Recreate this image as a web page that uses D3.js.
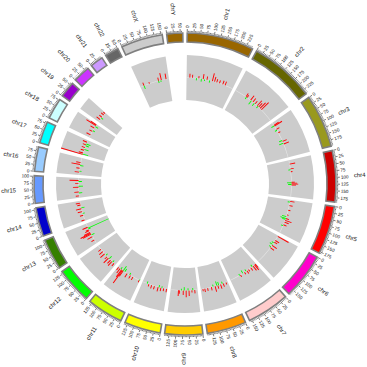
<!DOCTYPE html>
<html>
<head>
<meta charset="utf-8">
<script src="https://cdn.jsdelivr.net/npm/d3@7"></script>
<style>
  body { margin: 0; background: #fff; }
  svg { display: block; font-family: "Liberation Sans", Arial, sans-serif; }
</style>
</head>
<body>
<div id="chart"></div>
<script>
// genome layout (hg19, Mb)
const chromosomes = ["chr1", "chr2", "chr3", "chr4", "chr5", "chr6", "chr7", "chr8", "chr9", "chr10", "chr11", "chr12",
    "chr13", "chr14", "chr15", "chr16", "chr17", "chr18", "chr19", "chr20", "chr21", "chr22", "chrX", "chrY"];
const chromLengths = [249.3, 243.2, 198.0, 191.2, 180.9, 171.1, 159.1, 146.4, 141.2, 135.5, 135.0, 133.9,
    115.2, 107.3, 102.5, 90.4, 81.2, 78.1, 59.1, 63.0, 48.1, 51.3, 155.3, 59.4];
const chromColors = ["#996600", "#666600", "#99991e", "#cc0000", "#ff0000", "#ff00cc", "#ffcccc", "#ff9900",
    "#ffcc00", "#ffff00", "#ccff00", "#00ff00", "#358000", "#0000cc", "#6699ff", "#99ccff", "#00ffff",
    "#ccffff", "#9900cc", "#cc33ff", "#cc99ff", "#666666", "#cccccc", "#996600"];
const tickStep = 25;

// chromosomes that carry a data track
const trackChroms = ["chr1", "chr2", "chr3", "chr4", "chr5", "chr6", "chr7", "chr8", "chr9", "chr10", "chr11", "chr12",
    "chr13", "chr14", "chr15", "chr16", "chr17", "chr18", "chr19", "chrX"];

// [chromosome, position (Mb), value]
const redBars = [
    ["chr1", 17, .35], ["chr1", 31, .27], ["chr1", 64, .2], ["chr1", 87, .45], ["chr1", 107, .3], ["chr1", 136, .7],
    ["chr1", 148, .45], ["chr1", 160, .3], ["chr1", 175, .27], ["chr1", 193, .35], ["chr1", 206, .35],
    ["chr2", 65, .35], ["chr2", 72, .25], ["chr2", 95, .5], ["chr2", 110, .4], ["chr2", 125, .3], ["chr2", 140, .6],
    ["chr2", 150, .45], ["chr2", 160, .7], ["chr2", 170, .9],
    ["chr3", 15, .5], ["chr3", 20, .8], ["chr3", 40, .3], ["chr3", 60, .2], ["chr3", 110, .4], ["chr3", 125, .5],
    ["chr4", 20, .5], ["chr4", 45, .3], ["chr4", 60, .15], ["chr4", 115, .3], ["chr4", 120, .5], ["chr4", 125, .6], ["chr4", 130, .4],
    ["chr5", 8, .4], ["chr5", 30, .3], ["chr5", 55, .2], ["chr5", 80, .15], ["chr5", 100, .3], ["chr5", 110, .6],
    ["chr5", 120, .4], ["chr5", 135, .3],
    ["chr6", 5, 1.1], ["chr6", 30, .4], ["chr6", 40, .3], ["chr6", 60, .5], ["chr6", 75, .4],
    ["chr7", 5, .4], ["chr7", 10, .6], ["chr7", 20, .5], ["chr7", 35, .3], ["chr7", 50, .2], ["chr7", 60, .3],
    ["chr7", 75, .2], ["chr7", 100, .2],
    ["chr8", 10, .2], ["chr8", 25, .3], ["chr8", 40, .4], ["chr8", 55, .3], ["chr8", 70, .5], ["chr8", 90, .3],
    ["chr8", 110, .25], ["chr8", 125, .3], ["chr8", 135, .2],
    ["chr9", 15, .3], ["chr9", 30, .2], ["chr9", 45, .5], ["chr9", 60, .6], ["chr9", 75, .4], ["chr9", 95, .3], ["chr9", 100, .5],
    ["chr10", 5, .3], ["chr10", 20, .25], ["chr10", 35, .3], ["chr10", 50, .4], ["chr10", 70, .3], ["chr10", 85, .3], ["chr10", 100, .2],
    ["chr11", 3, .2], ["chr11", 40, .3], ["chr11", 55, .3], ["chr11", 75, .4], ["chr11", 100, .6], ["chr11", 105, 1.4],
    ["chr11", 110, .8], ["chr11", 120, .5], ["chr11", 130, .3],
    ["chr12", 10, .3], ["chr12", 25, .5], ["chr12", 35, .4], ["chr12", 50, .6], ["chr12", 60, .3], ["chr12", 80, .5],
    ["chr12", 95, .4], ["chr12", 110, .3],
    ["chr13", 20, .3], ["chr13", 40, .5], ["chr13", 55, .8], ["chr13", 60, 1.0], ["chr13", 65, .6], ["chr13", 75, .4],
    ["chr13", 80, .3], ["chr13", 95, .5],
    ["chr14", 5, .3], ["chr14", 30, .3], ["chr14", 50, .4], ["chr14", 65, .5], ["chr14", 85, .3], ["chr14", 95, .4],
    ["chr15", 10, .3], ["chr15", 30, .4], ["chr15", 55, .5], ["chr15", 75, .3], ["chr15", 90, .8],
    ["chr16", 15, .4], ["chr16", 35, .3], ["chr16", 55, .8], ["chr16", 65, .4],
    ["chr17", 3, 2.0], ["chr17", 10, .4], ["chr17", 25, .3], ["chr17", 40, .3], ["chr17", 55, .3], ["chr17", 70, .4],
    ["chr18", 15, .4], ["chr18", 35, .3], ["chr18", 55, .4], ["chr18", 70, 1.0], ["chr18", 75, .6],
    ["chr19", 15, .4], ["chr19", 30, .3], ["chr19", 45, .3], ["chr19", 55, .2],
    ["chrX", 20, .3], ["chrX", 50, .15], ["chrX", 100, .3], ["chrX", 115, .65], ["chrX", 140, .5]
];
const greenBars = [
    ["chr1", 52, -.2], ["chr1", 78, -.25], ["chr1", 95, -.15], ["chr1", 122, -.2],
    ["chr2", 68, -.2], ["chr2", 100, -.4], ["chr2", 120, -.3], ["chr2", 145, -.2],
    ["chr3", 18, -.3], ["chr3", 45, -.2], ["chr3", 105, -.3], ["chr3", 120, -.4],
    ["chr4", 50, -.2], ["chr4", 118, -.4], ["chr4", 127, -.3],
    ["chr5", 12, -.2], ["chr5", 90, -.4], ["chr5", 100, -.5], ["chr5", 105, -.3], ["chr5", 140, -.2],
    ["chr6", 45, -.2], ["chr6", 55, -.3], ["chr6", 70, -.2],
    ["chr7", 25, -.2], ["chr7", 65, -.2], ["chr7", 85, -.3], ["chr7", 105, -.15],
    ["chr8", 30, -.2], ["chr8", 50, -.3], ["chr8", 60, -.4], ["chr8", 80, -.2],
    ["chr9", 25, -.2], ["chr9", 50, -.2], ["chr9", 70, -.3], ["chr9", 85, -.15],
    ["chr10", 30, -.15], ["chr10", 45, -.2], ["chr10", 110, -.2],
    ["chr11", 1, -.1], ["chr11", 60, -.2], ["chr11", 90, -.3], ["chr11", 100, -.5], ["chr11", 115, -.2],
    ["chr12", 20, -.2], ["chr12", 45, -.3], ["chr12", 70, -.2],
    ["chr13", 50, -.3], ["chr13", 85, -.2], ["chr13", 90, -2.0],
    ["chr14", 40, -.2], ["chr14", 70, -.3],
    ["chr15", 25, -.3], ["chr15", 60, -.4], ["chr15", 85, -.3],
    ["chr16", 20, -.2], ["chr16", 50, -.3],
    ["chr17", 4, -.5], ["chr17", 30, -.4], ["chr17", 50, -.3], ["chr17", 60, -.4],
    ["chr18", 40, -.2], ["chr18", 65, -.3],
    ["chr19", 25, -.2],
    ["chrX", 20, -.3], ["chrX", 100, -.2], ["chrX", 112, -.15]
];

function draw() {
    // SVG properties
    const width = 367, height = 367,
        cx = 185, cy = 184,
        gapDeg = 1.69,
        ideoInner = 142, ideoOuter = 151,
        trackInner = 84, trackOuter = 129;

    const rad = Math.PI / 180;
    const total = d3.sum(chromLengths);
    const degPerMb = (360 - gapDeg * chromosomes.length) / total;

    // one angular scale per chromosome
    const scales = {};
    let start = gapDeg / 2;
    chromosomes.forEach((c, i) => {
        const end = start + chromLengths[i] * degPerMb;
        scales[c] = d3.scaleLinear().domain([0, chromLengths[i]]).range([start * rad, end * rad]);
        start = end + gapDeg;
    });

    const rScale = d3.scaleLinear().domain([-2, 2]).range([trackInner, trackOuter]);

    const svg = d3.select("#chart")
        .append("svg")
        .attr("width", width)
        .attr("height", height);

    const g = svg.append("g").attr("transform", `translate(${cx}, ${cy})`);

    // ideogram
    const ideoArc = d3.arc().innerRadius(ideoInner).outerRadius(ideoOuter);
    g.selectAll("path.ideo")
        .data(chromosomes)
        .enter()
        .append("path")
        .attr("class", "ideo")
        .attr("d", (c, i) => ideoArc({ startAngle: scales[c](0), endAngle: scales[c](chromLengths[i]) }))
        .attr("fill", (c, i) => chromColors[i])
        .attr("stroke", "#7f7f7f")
        .attr("stroke-width", 1.6);

    // ticks
    const ticks = [];
    chromosomes.forEach((c, i) => {
        d3.range(0, chromLengths[i], 5).forEach(p => ticks.push({ c, p, major: p % tickStep === 0 }));
    });
    const polar = (a, r) => [r * Math.sin(a), -r * Math.cos(a)];

    g.selectAll("line.tick")
        .data(ticks)
        .enter()
        .append("line")
        .attr("class", "tick")
        .attr("x1", d => polar(scales[d.c](d.p), ideoOuter + 1)[0])
        .attr("y1", d => polar(scales[d.c](d.p), ideoOuter + 1)[1])
        .attr("x2", d => polar(scales[d.c](d.p), ideoOuter + (d.major ? 4 : 2.2))[0])
        .attr("y2", d => polar(scales[d.c](d.p), ideoOuter + (d.major ? 4 : 2.2))[1])
        .attr("stroke", "#222")
        .attr("stroke-width", 0.6);

    const radialText = (sel, r) => sel
        .attr("transform", d => {
            const a = d.a / rad;
            const [x, y] = polar(d.a, r);
            return a < 180 ? `translate(${x}, ${y}) rotate(${a - 90})` : `translate(${x}, ${y}) rotate(${a + 90})`;
        })
        .attr("text-anchor", d => (d.a / rad < 180 ? "start" : "end"))
        .attr("dy", "0.35em");

    g.selectAll("text.ticklabel")
        .data(ticks.filter(d => d.major).map(d => ({ a: scales[d.c](d.p), t: d.p })))
        .enter()
        .append("text")
        .attr("class", "ticklabel")
        .attr("font-size", 4.6)
        .attr("fill", "#111")
        .call(radialText, ideoOuter + 5)
        .text(d => d.t);

    // chromosome names
    g.selectAll("text.chrname")
        .data(chromosomes.map((c, i) => ({ a: scales[c](chromLengths[i] / 2), t: c })))
        .enter()
        .append("text")
        .attr("class", "chrname")
        .attr("font-size", 6)
        .attr("fill", "#111")
        .call(radialText, ideoOuter + 18)
        .text(d => d.t);

    // track backgrounds
    const trackArc = d3.arc().innerRadius(trackInner).outerRadius(trackOuter);
    g.selectAll("path.bg")
        .data(trackChroms)
        .enter()
        .append("path")
        .attr("class", "bg")
        .attr("d", c => trackArc({ startAngle: scales[c].range()[0], endAngle: scales[c].range()[1] }))
        .attr("fill", "#cccccc");

    // baseline
    const baseArc = d3.arc().innerRadius(rScale(0) - 0.3).outerRadius(rScale(0) + 0.3);
    g.selectAll("path.base")
        .data(trackChroms)
        .enter()
        .append("path")
        .attr("class", "base")
        .attr("d", c => baseArc({ startAngle: scales[c].range()[0], endAngle: scales[c].range()[1] }))
        .attr("fill", "#e6e6e6");

    // bars
    const halfW = 0.24 * rad;
    const barArc = d3.arc();
    const drawBars = (data, color, cls) => g.selectAll("path." + cls)
        .data(data)
        .enter()
        .append("path")
        .attr("class", cls)
        .attr("d", d => barArc({
            innerRadius: rScale(0),
            outerRadius: rScale(d[2]),
            startAngle: scales[d[0]](d[1]) - halfW,
            endAngle: scales[d[0]](d[1]) + halfW
        }))
        .attr("fill", color);

    drawBars(redBars, "#ff0000", "red");
    drawBars(greenBars, "#00ff00", "green");
}

document.addEventListener("DOMContentLoaded", draw);
</script>
</body>
</html>
